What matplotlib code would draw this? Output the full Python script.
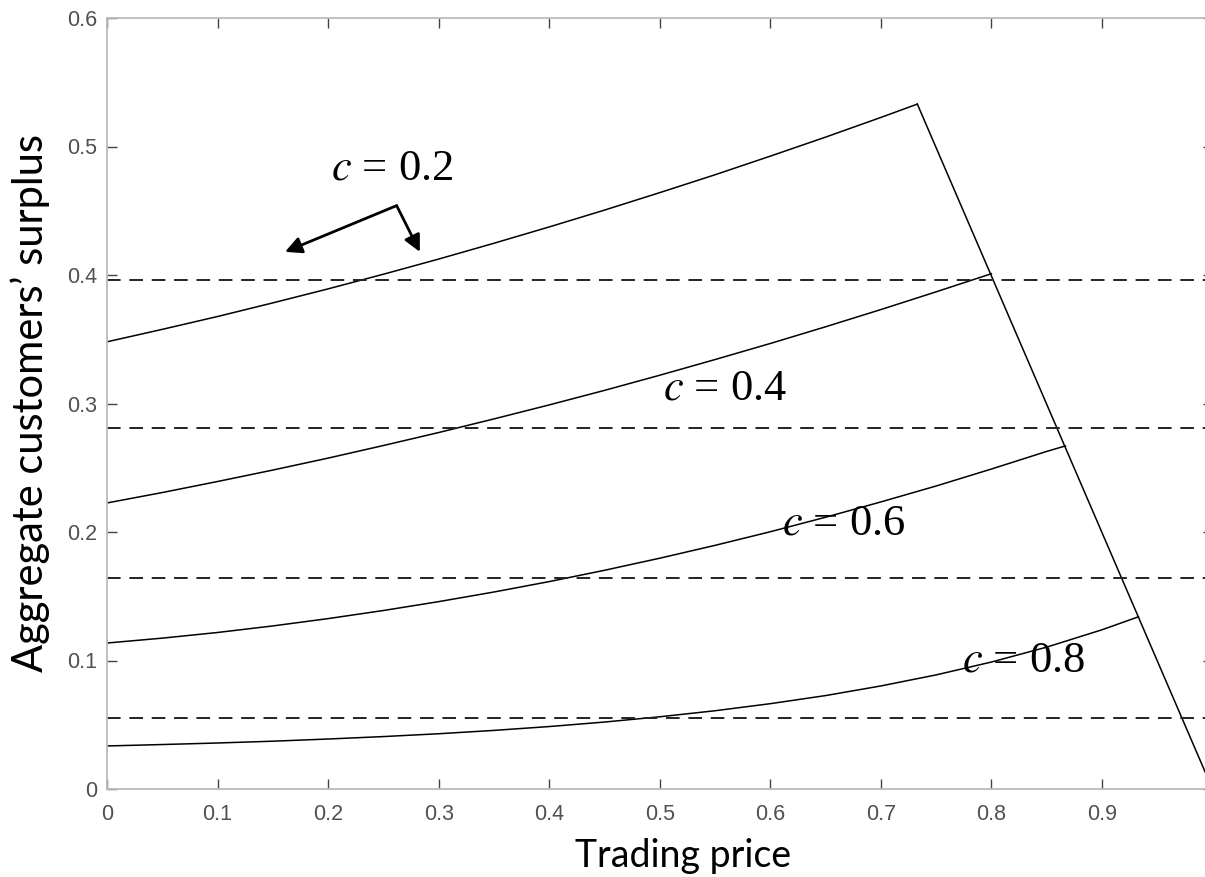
import matplotlib.pyplot as plt

plt.rcParams['mathtext.fontset'] = 'stix'

# surplus curves, one per c
c_vals = [0.2, 0.4, 0.6, 0.8]
x_02 = [0, 0.05, 0.1, 0.15, 0.2, 0.25, 0.3, 0.35, 0.4, 0.45, 0.5, 0.55, 0.6, 0.65, 0.7, 0.733]
y_02 = [0.348, 0.3577, 0.3677, 0.3783, 0.3892, 0.4006, 0.4124, 0.4247, 0.4374,
        0.4505, 0.4641, 0.4780, 0.4925, 0.5073, 0.5226, 0.533]
x_04 = [0, 0.05, 0.1, 0.15, 0.2, 0.25, 0.3, 0.35, 0.4, 0.45, 0.5, 0.55, 0.6, 0.65, 0.7, 0.75, 0.8]
y_04 = [0.2226, 0.2307, 0.2393, 0.2482, 0.2575, 0.2673, 0.2774, 0.2880, 0.2989,
        0.3102, 0.3220, 0.3342, 0.3467, 0.3597, 0.3731, 0.3869, 0.401]
x_06 = [0, 0.05, 0.1, 0.15, 0.2, 0.25, 0.3, 0.35, 0.4, 0.45, 0.5, 0.55, 0.6, 0.65,
        0.7, 0.75, 0.8, 0.85, 0.867]
y_06 = [0.1136, 0.1174, 0.1218, 0.1269, 0.1326, 0.1389, 0.1458, 0.1533, 0.1614,
        0.1702, 0.1796, 0.1896, 0.2002, 0.2115, 0.2234, 0.2358, 0.2490, 0.2627, 0.267]
x_08 = [0, 0.05, 0.1, 0.15, 0.2, 0.25, 0.3, 0.35, 0.4, 0.45, 0.5, 0.55, 0.6, 0.65,
        0.7, 0.75, 0.8, 0.85, 0.9, 0.933]
y_08 = [0.0335, 0.0346, 0.0358, 0.0372, 0.0389, 0.0408, 0.0430, 0.0456, 0.0486,
        0.0521, 0.0562, 0.0609, 0.0664, 0.0727, 0.0802, 0.0888, 0.0988, 0.1104, 0.1239, 0.134]

# falling boundary line
x_edge = [0.733, 1.0]
y_edge = [0.533, 0.0]

# horizontal dashed levels
levels = [0.396, 0.281, 0.164, 0.055]

# label spots
lab_x = [0.258, 0.559, 0.666, 0.829]
lab_y = [0.483, 0.312, 0.207, 0.100]

fig = plt.figure(figsize=(12.05, 8.77), dpi=100)
ax = fig.add_axes([107 / 1205, 88 / 877, 1105.5 / 1205, 771 / 877])

for xs, ys in [(x_02, y_02), (x_04, y_04), (x_06, y_06), (x_08, y_08)]:
    ax.plot(xs, ys, color='black', lw=1.1)
ax.plot(x_edge, y_edge, color='black', lw=1.1)

for lv in levels:
    ax.axhline(lv, color='#222222', lw=1.4, ls=(0, (7, 4.5)))

for c, lx, ly in zip(c_vals, lab_x, lab_y):
    ax.text(lx, ly, r'$c$ = %.1f' % c, fontsize=32, family='Liberation Serif',
            ha='center', va='center')

# the two arrows under c = 0.2
for tx, ty in [(0.161, 0.418), (0.283, 0.418)]:
    ax.annotate('', xy=(tx, ty), xytext=(0.262, 0.454),
                arrowprops=dict(arrowstyle='-|>', color='black', lw=2,
                                mutation_scale=25, shrinkA=0, shrinkB=0))

ax.set_xlim(0, 1.0)
ax.set_ylim(0, 0.6)
ax.set_xticks([0, 0.1, 0.2, 0.3, 0.4, 0.5, 0.6, 0.7, 0.8, 0.9])
ax.set_xticklabels(['0', '0.1', '0.2', '0.3', '0.4', '0.5', '0.6', '0.7', '0.8', '0.9'])
ax.set_yticks([0, 0.1, 0.2, 0.3, 0.4, 0.5, 0.6])
ax.set_yticklabels(['0', '0.1', '0.2', '0.3', '0.4', '0.5', '0.6'])
ax.tick_params(direction='in', length=7, width=1, color='#444444',
               labelcolor='#505050', labelsize=15.5, top=True, right=True)
ax.tick_params(axis='x', pad=11)
ax.tick_params(axis='y', pad=7)
for lab in ax.get_xticklabels() + ax.get_yticklabels():
    lab.set_family('Liberation Sans')
for s in ax.spines.values():
    s.set_color('#bbbbbb')
    s.set_linewidth(1.3)

ax.set_xlabel('Trading price', fontsize=27, family='Lato')
ax.xaxis.set_label_coords(0.521, -0.064)
ax.set_ylabel('Aggregate customers\u2019 surplus', fontsize=30, family='Lato')
ax.yaxis.set_label_coords(-0.052, 0.5)

fig.savefig('out.png', dpi=100)
